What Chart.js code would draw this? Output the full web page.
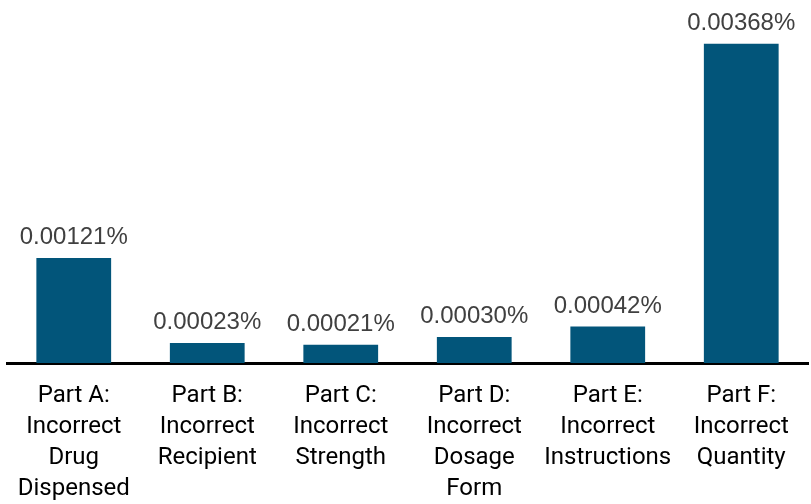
<!DOCTYPE html>
<html>
<head>
<meta charset="utf-8">
<script src="https://cdn.jsdelivr.net/npm/chart.js@4.4.0/dist/chart.umd.min.js"></script>
<style>
  body { margin: 0; background: #fff; }
  #wrap { width: 811px; height: 504px; }
</style>
</head>
<body>
<div id="wrap"><canvas id="errChart" width="811" height="504"></canvas></div>
<script>
// Error rates per category (percent)
const categories = [
  ['Part A:', 'Incorrect', 'Drug', 'Dispensed'],
  ['Part B:', 'Incorrect', 'Recipient'],
  ['Part C:', 'Incorrect', 'Strength'],
  ['Part D:', 'Incorrect', 'Dosage', 'Form'],
  ['Part E:', 'Incorrect', 'Instructions'],
  ['Part F:', 'Incorrect', 'Quantity']
];
const errorRates = [0.00121, 0.00023, 0.00021, 0.00030, 0.00042, 0.00368];
const valueLabels = ['0.00121%', '0.00023%', '0.00021%', '0.00030%', '0.00042%', '0.00368%'];

// Value text above each bar
const barValues = {
  id: 'barValues',
  afterDatasetsDraw(chart) {
    const ctx = chart.ctx;
    const meta = chart.getDatasetMeta(0);
    ctx.save();
    ctx.font = '24px "Liberation Sans", Arial, sans-serif';
    ctx.fillStyle = '#404040';
    ctx.textAlign = 'center';
    ctx.textBaseline = 'alphabetic';
    meta.data.forEach((bar, i) => {
      ctx.fillText(valueLabels[i], bar.x, bar.y - 14);
    });
    ctx.restore();
  }
};

new Chart(document.getElementById('errChart'), {
  type: 'bar',
  data: {
    labels: categories,
    datasets: [{
      data: errorRates,
      backgroundColor: '#02557a',
      barPercentage: 0.56,
      categoryPercentage: 1.0
    }]
  },
  options: {
    responsive: false,
    animation: false,
    layout: { padding: { left: 7, right: 3, top: 16, bottom: 0 } },
    plugins: { legend: { display: false }, tooltip: { enabled: false } },
    scales: {
      x: {
        // fixed band for the 4-line category labels
        afterFit(scale) { scale.height = 141; },
        grid: { display: false, drawTicks: false },
        border: { display: true, color: '#000', width: 3 },
        ticks: {
          color: '#000',
          padding: 17,
          maxRotation: 0,
          autoSkip: false,
          font: { family: 'Roboto, sans-serif', size: 24, lineHeight: 1.3 }
        }
      },
      y: {
        display: false,
        min: 0,
        max: 0.004
      }
    }
  },
  plugins: [barValues]
});
</script>
</body>
</html>
